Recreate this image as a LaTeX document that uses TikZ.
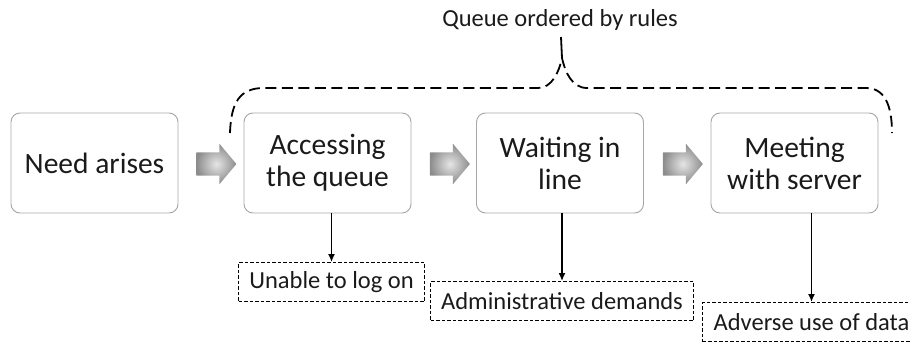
\documentclass[tikz,border=0pt]{standalone}
\usepackage{fontspec}
\setmainfont{Carlito}
\usetikzlibrary{arrows.meta,shapes.arrows}
\definecolor{boxline}{HTML}{A6A6A6}
\definecolor{txt}{HTML}{1A1A1A}
\tikzset{
  stage/.style={draw=boxline, line width=0.9pt, rounded corners=9pt, minimum width=167pt, minimum height=100pt,
    align=center, font=\fontsize{29.5}{32}\selectfont, text=txt, inner sep=0pt},
  issue/.style={draw=black, line width=1pt, dash pattern=on 3.5pt off 2pt, minimum height=39pt,
    font=\fontsize{24.5}{28}\selectfont, text=txt, inner sep=0pt, anchor=north west},
  blockarrow/.style={single arrow, shape border rotate=0, minimum width=36pt, minimum height=40pt,
    single arrow head extend=8.5pt, single arrow tip angle=100, inner sep=0pt,
    inner ysep=11.5pt, draw=none, inner color=gray!20, outer color=gray!90},
  down/.style={-{Latex[length=8pt,width=7pt]}, line width=1.4pt, draw=black},
  brace/.style={draw=black, line width=1.8pt, dash pattern=on 11pt off 5.5pt}
}
\begin{document}
\begin{tikzpicture}[x=1pt,y=-1pt]
\useasboundingbox (0,0) rectangle (910,342);
\clip (0,0) rectangle (910,342);
\node[stage] (b1) at (94.5,163) {Need arises};
\node[stage] (b2) at (327.5,163) {Accessing\\the queue};
\node[stage] (b3) at (560,163) {Waiting in\\line};
\node[stage] (b4) at (794.5,163) {Meeting\\with server};
\node[blockarrow] (a1) at (211.5,164) {};
\node[blockarrow] (a2) at (445,164) {};
\node[blockarrow] (a3) at (678,164) {};
\node[issue, minimum width=186pt] (i1) at (238,262) {Unable to log on};
\node[issue, minimum width=263pt] (i2) at (430,281) {Administrative demands};
\node[issue, minimum width=218pt] (i3) at (702,302) {Adverse use of data};
\draw[down] (i1.north |- b2.south) -- (i1.north);
\draw[down] (i2.north |- b3.south) -- (i2.north);
\draw[down] (i3.north |- b4.south) -- (i3.north);
\node[font=\fontsize{24.5}{28}\selectfont, text=txt] (q) at (560,20) {Queue ordered by rules};
\coordinate (bl) at (230,133);
\coordinate (br) at (892,133);
\coordinate (pk) at (562,58);
\coordinate (tk) at (561,37);
\draw[brace] (bl) .. controls (231,102) and (240,88) .. (264,88) -- (538,88)
  .. controls (552,88) and (559,72) .. (pk) .. controls (565,72) and (572,88) .. (587,88)
  -- (866,88) .. controls (884,88) and (892,104) .. (br);
\draw[brace, dash pattern=on 20pt off 0pt] (pk) -- (tk);
\end{tikzpicture}
\end{document}
